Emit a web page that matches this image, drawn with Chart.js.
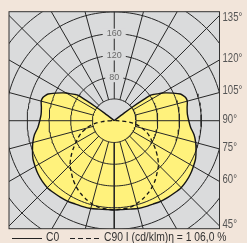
<!DOCTYPE html>
<html>
<head>
<meta charset="utf-8">
<script src="https://cdn.jsdelivr.net/npm/chart.js@4.4.1/dist/chart.umd.min.js"></script>
<style>
  html, body { margin: 0; padding: 0; background: #f2e5da; }
  #wrap { position: relative; width: 247px; height: 243px; }
  #legend { position: absolute; left: 0; top: 231px; width: 247px; height: 13px;
    font: 12px "Liberation Sans", Arial, sans-serif; color: #333; white-space: nowrap; }
  .it { position: absolute; top: 0; line-height: 13px; transform: scaleX(0.86); transform-origin: 0 0; }
  .ln { position: absolute; top: 7px; width: 30px; height: 1px; background: #222; }
  .ln.dash { background: repeating-linear-gradient(to right, #222 0 5px, transparent 5px 8px); }
</style>
</head>
<body>
<div id="wrap">
  <canvas id="polarChart" width="247" height="243"></canvas>
  <div id="legend">
    <span class="ln" style="left:12px"></span><span class="it" style="left:46px">C0</span>
    <span class="ln dash" style="left:70px"></span><span class="it" style="left:104px">C90 I (cd/klm)η = 1 06,0 %</span>
  </div>
</div>
<script>
/*******************************************************
 * /            Luminous intensity data (cd/klm)        * /
 ********************************************************/
const c0Angles = [0, 5, 10, 15, 20, 25, 30, 35, 40, 45, 50, 55, 60, 65, 70, 75, 80, 85, 90, 95, 100, 105, 108, 110, 112, 115, 118, 120, 122, 124, 125, 126, 127, 128, 129, 130];
const c0Values = [164, 164, 165, 167, 168, 169, 171, 172, 173, 174, 173, 171, 168, 165, 160, 155, 149, 141, 137, 135, 136, 139, 138, 135, 131, 120, 109, 102, 93, 86, 82, 62, 42, 22, 6, 0];

const c90Angles = [0, 5, 10, 15, 20, 25, 30, 35, 40, 45, 50, 55, 60, 65, 70, 75, 80, 83, 86, 88, 90];
const c90Values = [164, 163, 162, 158, 153, 147, 140, 132, 123, 115, 104, 93, 82, 73, 64, 53, 42, 33, 22, 13, 5];

const gridRadii = [40, 80, 120, 160, 200, 240, 280];
const spokeAngles = [0, 15, 30, 45, 60, 75, 90, 105, 120, 135, 150, 165, 180, 195, 210, 225, 240, 255, 270, 285, 300, 315, 330, 345];
const ringLabels = [80, 120, 160];
const angleTicks = [135, 120, 105, 90, 75, 60, 45];

const xMax = 193.5;
const yMin = -198.5;
const yMax = 200.4;

const rad = (d) => d * Math.PI / 180;

// gamma measured from straight down, left half mirrored to the right
function polarPoints(angles, values, closeIt) {
   let pts = [];
   for (let i = angles.length - 1; i >= 0; i--) {
      pts.push({ x: -values[i] * Math.sin(rad(angles[i])), y: -values[i] * Math.cos(rad(angles[i])) });
   }
   for (let i = 1; i < angles.length; i++) {
      pts.push({ x: values[i] * Math.sin(rad(angles[i])), y: -values[i] * Math.cos(rad(angles[i])) });
   }
   if (closeIt) pts.push(pts[0]);
   return pts;
}

function circlePoints(r) {
   let pts = [];
   for (let a = 0; a <= 360; a += 2) {
      pts.push({ x: r * Math.sin(rad(a)), y: r * Math.cos(rad(a)) });
   }
   return pts;
}

let spokePts = [];
for (let i = 0; i < spokeAngles.length; i++) {
   const a = rad(spokeAngles[i]);
   spokePts.push({ x: 40 * Math.sin(a), y: -40 * Math.cos(a) });
   spokePts.push({ x: 400 * Math.sin(a), y: -400 * Math.cos(a) });
   spokePts.push({ x: 0, y: null });
}

const c0Pts = polarPoints(c0Angles, c0Values, false);
const c90Pts = polarPoints(c90Angles, c90Values, true);

let datasets = [
   {
      label: "fill",
      data: c0Pts,
      fill: "shape",
      backgroundColor: "#fff27c",
      borderWidth: 0,
      tension: 0.25,
      order: 10,
   },
   {
      label: "spokes",
      data: spokePts,
      borderColor: "#262626",
      borderWidth: 1,
      spanGaps: false,
      order: 5,
   },
];

gridRadii.forEach(function (r) {
   datasets.push({
      label: "ring " + r,
      data: circlePoints(r),
      borderColor: "#262626",
      borderWidth: 1,
      order: 5,
   });
});

datasets.push({
   label: "C0",
   data: c0Pts,
   borderColor: "#151515",
   borderWidth: 1.4,
   tension: 0.25,
   order: 1,
});
datasets.push({
   label: "C90",
   data: c90Pts,
   borderColor: "#151515",
   borderWidth: 1.3,
   borderDash: [4, 3],
   tension: 0.25,
   order: 0,
});

const plotFrame = {
   id: "plotFrame",
   beforeDatasetsDraw(chart) {
      const { ctx, chartArea } = chart;
      ctx.save();
      ctx.fillStyle = "#dadbdc";
      ctx.fillRect(chartArea.left, chartArea.top, chartArea.right - chartArea.left, chartArea.bottom - chartArea.top);
      ctx.restore();
   },
   afterDatasetsDraw(chart) {
      const { ctx, chartArea, scales } = chart;
      ctx.save();
      ctx.font = '9px "Liberation Sans", Arial, sans-serif';
      ctx.textAlign = "center";
      ctx.textBaseline = "middle";
      ringLabels.forEach(function (r) {
         const px = scales.x.getPixelForValue(0);
         const py = scales.y.getPixelForValue(r);
         const w = ctx.measureText(String(r)).width + 8;
         ctx.fillStyle = "#dadbdc";
         ctx.fillRect(px - w / 2, py - 5, w, 10);
         ctx.fillStyle = "#6a6a6a";
         ctx.fillText(String(r), px, py);
      });
      ctx.strokeStyle = "#333";
      ctx.lineWidth = 1;
      ctx.strokeRect(chartArea.left, chartArea.top, chartArea.right - chartArea.left, chartArea.bottom - chartArea.top);

      // gamma labels where each spoke meets the right edge, narrow text
      ctx.font = '12px "Liberation Sans", Arial, sans-serif';
      ctx.textAlign = "left";
      ctx.fillStyle = "#555";
      angleTicks.forEach(function (g) {
         let py = scales.y.getPixelForValue(-xMax * Math.cos(rad(g)) / Math.sin(rad(g))) - 1.5;
         py = Math.min(Math.max(py, chartArea.top + 6), chartArea.bottom - 4);
         ctx.save();
         ctx.translate(chartArea.right + 3, py);
         ctx.scale(0.8, 1);
         ctx.fillText(g + "°", 0, 0);
         ctx.restore();
      });
      ctx.restore();
   },
};

const polarchart = document.getElementById("polarChart").getContext("2d");
const polarChart = new Chart(polarchart, {
   type: "scatter",
   data: { datasets: datasets },
   plugins: [plotFrame],
   options: {
      responsive: false,
      animation: false,
      devicePixelRatio: 1,
      showLine: true,
      elements: { point: { radius: 0, hoverRadius: 0 } },
      layout: { padding: { left: 9, top: 11.7, bottom: 14.3, right: 27.5 } },
      plugins: { legend: { display: false }, tooltip: { enabled: false } },
      scales: {
         x: { type: "linear", min: -xMax, max: xMax, display: false },
         y: { type: "linear", min: yMin, max: yMax, display: false },
      },
   },
});
</script>
</body>
</html>
